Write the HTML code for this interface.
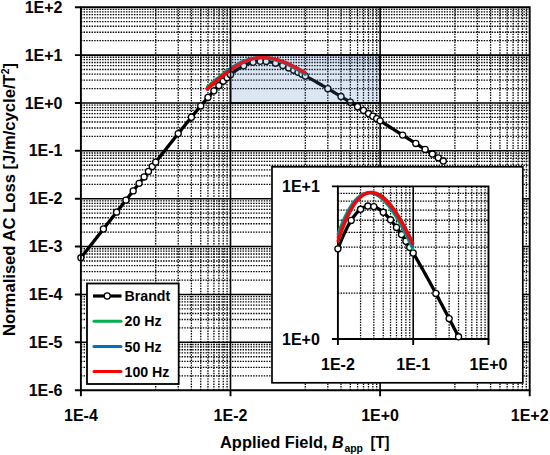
<!DOCTYPE html>
<html><head><meta charset="utf-8"><style>html,body{margin:0;padding:0;background:#fff;}svg{display:block;}</style></head>
<body>
<svg width="550" height="455" viewBox="0 0 550 455" font-family="&quot;Liberation Sans&quot;, sans-serif" font-weight="bold">
<rect x="0" y="0" width="550" height="455" fill="#fff"/>
<path d="M80.90,375.79H529.70M80.90,367.36H529.70M80.90,361.38H529.70M80.90,356.74H529.70M80.90,352.95H529.70M80.90,349.74H529.70M80.90,346.96H529.70M80.90,344.52H529.70M80.90,327.91H529.70M80.90,319.48H529.70M80.90,313.50H529.70M80.90,308.86H529.70M80.90,305.07H529.70M80.90,301.87H529.70M80.90,299.09H529.70M80.90,296.64H529.70M80.90,280.04H529.70M80.90,271.61H529.70M80.90,265.63H529.70M80.90,260.99H529.70M80.90,257.20H529.70M80.90,253.99H529.70M80.90,251.21H529.70M80.90,248.77H529.70M80.90,232.16H529.70M80.90,223.73H529.70M80.90,217.75H529.70M80.90,213.11H529.70M80.90,209.32H529.70M80.90,206.12H529.70M80.90,203.34H529.70M80.90,200.89H529.70M80.90,184.29H529.70M80.90,175.86H529.70M80.90,169.88H529.70M80.90,165.24H529.70M80.90,161.45H529.70M80.90,158.24H529.70M80.90,155.46H529.70M80.90,153.02H529.70M80.90,136.41H529.70M80.90,127.98H529.70M80.90,122.00H529.70M80.90,117.36H529.70M80.90,113.57H529.70M80.90,110.37H529.70M80.90,107.59H529.70M80.90,105.14H529.70M80.90,88.54H529.70M80.90,80.11H529.70M80.90,74.13H529.70M80.90,69.49H529.70M80.90,65.70H529.70M80.90,62.49H529.70M80.90,59.71H529.70M80.90,57.27H529.70M80.90,40.66H529.70M80.90,32.23H529.70M80.90,26.25H529.70M80.90,21.61H529.70M80.90,17.82H529.70M80.90,14.62H529.70M80.90,11.84H529.70M80.90,9.39H529.70" fill="none" stroke="#000" stroke-width="1.3" stroke-dasharray="1.45 1.2"/>
<path d="M155.70,390.20V7.20M178.22,390.20V7.20M191.39,390.20V7.20M200.73,390.20V7.20M207.98,390.20V7.20M213.91,390.20V7.20M218.91,390.20V7.20M223.25,390.20V7.20M227.08,390.20V7.20M305.30,390.20V7.20M327.82,390.20V7.20M340.99,390.20V7.20M350.33,390.20V7.20M357.58,390.20V7.20M363.51,390.20V7.20M368.51,390.20V7.20M372.85,390.20V7.20M376.68,390.20V7.20M454.90,390.20V7.20M477.42,390.20V7.20M490.59,390.20V7.20M499.93,390.20V7.20M507.18,390.20V7.20M513.11,390.20V7.20M518.11,390.20V7.20M522.45,390.20V7.20M526.28,390.20V7.20" fill="none" stroke="#000" stroke-width="1.3" stroke-dasharray="1.45 1.2"/>
<path d="M80.90,342.32H529.70M80.90,294.45H529.70M80.90,246.57H529.70M80.90,198.70H529.70M80.90,150.82H529.70M80.90,102.95H529.70M80.90,55.08H529.70M230.50,390.20V7.20M380.10,390.20V7.20" fill="none" stroke="#000" stroke-width="1.6"/>
<path d="M80.90,257.81 L81.81,256.64 L82.72,255.48 L83.62,254.32 L84.53,253.16 L85.44,251.99 L86.35,250.83 L87.26,249.67 L88.17,248.51 L89.07,247.34 L89.98,246.18 L90.89,245.02 L91.80,243.86 L92.71,242.69 L93.62,241.53 L94.52,240.37 L95.43,239.20 L96.34,238.04 L97.25,236.88 L98.16,235.72 L99.07,234.55 L99.97,233.39 L100.88,232.23 L101.79,231.07 L102.70,229.90 L103.61,228.74 L104.52,227.58 L105.42,226.42 L106.33,225.25 L107.24,224.09 L108.15,222.93 L109.06,221.77 L109.97,220.61 L110.87,219.44 L111.78,218.28 L112.69,217.12 L113.60,215.96 L114.51,214.79 L115.42,213.63 L116.32,212.47 L117.23,211.31 L118.14,210.14 L119.05,208.98 L119.96,207.82 L120.87,206.66 L121.77,205.50 L122.68,204.33 L123.59,203.17 L124.50,202.01 L125.41,200.85 L126.32,199.69 L127.22,198.52 L128.13,197.36 L129.04,196.20 L129.95,195.04 L130.86,193.88 L131.77,192.72 L132.67,191.56 L133.58,190.39 L134.49,189.23 L135.40,188.07 L136.31,186.91 L137.21,185.75 L138.12,184.59 L139.03,183.43 L139.94,182.27 L140.85,181.11 L141.76,179.95 L142.66,178.79 L143.57,177.63 L144.48,176.47 L145.39,175.31 L146.30,174.15 L147.21,172.99 L148.11,171.83 L149.02,170.67 L149.93,169.51 L150.84,168.35 L151.75,167.19 L152.66,166.03 L153.56,164.87 L154.47,163.72 L155.38,162.56 L156.29,161.40 L157.20,160.24 L158.11,159.09 L159.01,157.93 L159.92,156.78 L160.83,155.62 L161.74,154.47 L162.65,153.31 L163.56,152.16 L164.46,151.00 L165.37,149.85 L166.28,148.70 L167.19,147.54 L168.10,146.39 L169.01,145.24 L169.91,144.09 L170.82,142.94 L171.73,141.79 L172.64,140.65 L173.55,139.50 L174.46,138.35 L175.36,137.21 L176.27,136.06 L177.18,134.92 L178.09,133.78 L179.00,132.64 L179.91,131.50 L180.81,130.36 L181.72,129.22 L182.63,128.09 L183.54,126.95 L184.45,125.82 L185.35,124.69 L186.26,123.56 L187.17,122.43 L188.08,121.31 L188.99,120.19 L189.90,119.06 L190.80,117.95 L191.71,116.83 L192.62,115.72 L193.53,114.61 L194.44,113.50 L195.35,112.40 L196.25,111.29 L197.16,110.20 L198.07,109.10 L198.98,108.01 L199.89,106.92 L200.80,105.84 L201.70,104.76 L202.61,103.69 L203.52,102.62 L204.43,101.56 L205.34,100.50 L206.25,99.45 L207.15,98.40 L208.06,97.36 L208.97,96.33 L209.88,95.30 L210.79,94.28 L211.70,93.27 L212.60,92.26 L213.51,91.27 L214.42,90.28 L215.33,89.30 L216.24,88.33 L217.15,87.37 L218.05,86.42 L218.96,85.48 L219.87,84.55 L220.78,83.64 L221.69,82.73 L222.60,81.84 L223.50,80.96 L224.41,80.09 L225.32,79.24 L226.23,78.40 L227.14,77.58 L228.05,76.77 L228.95,75.98 L229.86,75.20 L230.77,74.45 L231.68,73.70 L232.59,72.98 L233.50,72.28 L234.40,71.59 L235.31,70.92 L236.22,70.27 L237.13,69.65 L238.04,69.04 L238.94,68.46 L239.85,67.89 L240.76,67.35 L241.67,66.83 L242.58,66.33 L243.49,65.85 L244.39,65.40 L245.30,64.97 L246.21,64.56 L247.12,64.18 L248.03,63.82 L248.94,63.48 L249.84,63.17 L250.75,62.88 L251.66,62.62 L252.57,62.38 L253.48,62.16 L254.39,61.96 L255.29,61.79 L256.20,61.64 L257.11,61.51 L258.02,61.41 L258.93,61.32 L259.84,61.26 L260.74,61.22 L261.65,61.20 L262.56,61.21 L263.47,61.23 L264.38,61.27 L265.29,61.33 L266.19,61.41 L267.10,61.51 L268.01,61.62 L268.92,61.76 L269.83,61.91 L270.74,62.07 L271.64,62.25 L272.55,62.45 L273.46,62.66 L274.37,62.89 L275.28,63.12 L276.19,63.38 L277.09,63.64 L278.00,63.92 L278.91,64.21 L279.82,64.51 L280.73,64.82 L281.64,65.14 L282.54,65.47 L283.45,65.81 L284.36,66.16 L285.27,66.51 L286.18,66.88 L287.09,67.25 L287.99,67.63 L288.90,68.02 L289.81,68.42 L290.72,68.82 L291.63,69.23 L292.53,69.64 L293.44,70.06 L294.35,70.49 L295.26,70.92 L296.17,71.36 L297.08,71.80 L297.98,72.24 L298.89,72.70 L299.80,73.15 L300.71,73.61 L301.62,74.07 L302.53,74.54 L303.43,75.01 L304.34,75.49 L305.25,75.96 L306.16,76.45 L307.07,76.93 L307.98,77.42 L308.88,77.91 L309.79,78.40 L310.70,78.90 L311.61,79.40 L312.52,79.90 L313.43,80.40 L314.33,80.91 L315.24,81.42 L316.15,81.93 L317.06,82.44 L317.97,82.96 L318.88,83.48 L319.78,84.00 L320.69,84.52 L321.60,85.04 L322.51,85.56 L323.42,86.09 L324.33,86.62 L325.23,87.15 L326.14,87.68 L327.05,88.21 L327.96,88.75 L328.87,89.28 L329.78,89.82 L330.68,90.36 L331.59,90.90 L332.50,91.44 L333.41,91.98 L334.32,92.52 L335.23,93.07 L336.13,93.61 L337.04,94.16 L337.95,94.71 L338.86,95.26 L339.77,95.81 L340.67,96.36 L341.58,96.91 L342.49,97.46 L343.40,98.01 L344.31,98.57 L345.22,99.12 L346.12,99.68 L347.03,100.23 L347.94,100.79 L348.85,101.35 L349.76,101.90 L350.67,102.46 L351.57,103.02 L352.48,103.58 L353.39,104.14 L354.30,104.70 L355.21,105.27 L356.12,105.83 L357.02,106.39 L357.93,106.96 L358.84,107.52 L359.75,108.08 L360.66,108.65 L361.57,109.21 L362.47,109.78 L363.38,110.35 L364.29,110.91 L365.20,111.48 L366.11,112.05 L367.02,112.62 L367.92,113.18 L368.83,113.75 L369.74,114.32 L370.65,114.89 L371.56,115.46 L372.47,116.03 L373.37,116.60 L374.28,117.17 L375.19,117.74 L376.10,118.31 L377.01,118.89 L377.92,119.46 L378.82,120.03 L379.73,120.60 L380.64,121.17 L381.55,121.75 L382.46,122.32 L383.37,122.89 L384.27,123.47 L385.18,124.04 L386.09,124.62 L387.00,125.19 L387.91,125.76 L388.82,126.34 L389.72,126.91 L390.63,127.49 L391.54,128.06 L392.45,128.64 L393.36,129.21 L394.26,129.79 L395.17,130.37 L396.08,130.94 L396.99,131.52 L397.90,132.09 L398.81,132.67 L399.71,133.25 L400.62,133.82 L401.53,134.40 L402.44,134.98 L403.35,135.55 L404.26,136.13 L405.16,136.71 L406.07,137.29 L406.98,137.86 L407.89,138.44 L408.80,139.02 L409.71,139.60 L410.61,140.17 L411.52,140.75 L412.43,141.33 L413.34,141.91 L414.25,142.49 L415.16,143.07 L416.06,143.64 L416.97,144.22 L417.88,144.80 L418.79,145.38 L419.70,145.96 L420.61,146.54 L421.51,147.12 L422.42,147.70 L423.33,148.27 L424.24,148.85 L425.15,149.43 L426.06,150.01 L426.96,150.59 L427.87,151.17 L428.78,151.75 L429.69,152.33 L430.60,152.91 L431.51,153.49 L432.41,154.07 L433.32,154.65 L434.23,155.23 L435.14,155.81 L436.05,156.39 L436.96,156.97 L437.86,157.55 L438.77,158.13 L439.68,158.71 L440.59,159.29 L441.50,159.87 L442.41,160.45 L443.31,161.03" fill="none" stroke="#000" stroke-width="3.3" stroke-linejoin="round"/>
<circle cx="80.90" cy="257.81" r="3.05" fill="#fff" stroke="#000" stroke-width="1.3"/>
<circle cx="103.42" cy="228.99" r="3.05" fill="#fff" stroke="#000" stroke-width="1.3"/>
<circle cx="116.59" cy="212.13" r="3.05" fill="#fff" stroke="#000" stroke-width="1.3"/>
<circle cx="125.93" cy="200.17" r="3.05" fill="#fff" stroke="#000" stroke-width="1.3"/>
<circle cx="133.18" cy="190.90" r="3.05" fill="#fff" stroke="#000" stroke-width="1.3"/>
<circle cx="139.11" cy="183.33" r="3.05" fill="#fff" stroke="#000" stroke-width="1.3"/>
<circle cx="144.11" cy="176.93" r="3.05" fill="#fff" stroke="#000" stroke-width="1.3"/>
<circle cx="148.45" cy="171.40" r="3.05" fill="#fff" stroke="#000" stroke-width="1.3"/>
<circle cx="152.28" cy="166.52" r="3.05" fill="#fff" stroke="#000" stroke-width="1.3"/>
<circle cx="155.70" cy="162.15" r="3.05" fill="#fff" stroke="#000" stroke-width="1.3"/>
<circle cx="178.22" cy="133.62" r="3.05" fill="#fff" stroke="#000" stroke-width="1.3"/>
<circle cx="191.39" cy="117.23" r="3.05" fill="#fff" stroke="#000" stroke-width="1.3"/>
<circle cx="200.73" cy="105.92" r="3.05" fill="#fff" stroke="#000" stroke-width="1.3"/>
<circle cx="207.98" cy="97.45" r="3.05" fill="#fff" stroke="#000" stroke-width="1.3"/>
<circle cx="213.91" cy="90.84" r="3.05" fill="#fff" stroke="#000" stroke-width="1.3"/>
<circle cx="218.91" cy="85.53" r="3.05" fill="#fff" stroke="#000" stroke-width="1.3"/>
<circle cx="223.25" cy="81.20" r="3.05" fill="#fff" stroke="#000" stroke-width="1.3"/>
<circle cx="227.08" cy="77.63" r="3.05" fill="#fff" stroke="#000" stroke-width="1.3"/>
<circle cx="230.50" cy="74.67" r="3.05" fill="#fff" stroke="#000" stroke-width="1.3"/>
<circle cx="243.67" cy="65.76" r="3.05" fill="#fff" stroke="#000" stroke-width="1.3"/>
<circle cx="253.02" cy="62.26" r="3.05" fill="#fff" stroke="#000" stroke-width="1.3"/>
<circle cx="260.27" cy="61.24" r="3.05" fill="#fff" stroke="#000" stroke-width="1.3"/>
<circle cx="266.19" cy="61.41" r="3.05" fill="#fff" stroke="#000" stroke-width="1.3"/>
<circle cx="275.53" cy="63.19" r="3.05" fill="#fff" stroke="#000" stroke-width="1.3"/>
<circle cx="282.78" cy="65.56" r="3.05" fill="#fff" stroke="#000" stroke-width="1.3"/>
<circle cx="288.71" cy="67.94" r="3.05" fill="#fff" stroke="#000" stroke-width="1.3"/>
<circle cx="293.71" cy="70.19" r="3.05" fill="#fff" stroke="#000" stroke-width="1.3"/>
<circle cx="298.05" cy="72.28" r="3.05" fill="#fff" stroke="#000" stroke-width="1.3"/>
<circle cx="301.88" cy="74.21" r="3.05" fill="#fff" stroke="#000" stroke-width="1.3"/>
<circle cx="305.30" cy="75.99" r="3.05" fill="#fff" stroke="#000" stroke-width="1.3"/>
<circle cx="327.82" cy="88.66" r="3.05" fill="#fff" stroke="#000" stroke-width="1.3"/>
<circle cx="340.99" cy="96.55" r="3.05" fill="#fff" stroke="#000" stroke-width="1.3"/>
<circle cx="350.33" cy="102.26" r="3.05" fill="#fff" stroke="#000" stroke-width="1.3"/>
<circle cx="357.58" cy="106.74" r="3.05" fill="#fff" stroke="#000" stroke-width="1.3"/>
<circle cx="363.51" cy="110.42" r="3.05" fill="#fff" stroke="#000" stroke-width="1.3"/>
<circle cx="368.51" cy="113.55" r="3.05" fill="#fff" stroke="#000" stroke-width="1.3"/>
<circle cx="372.85" cy="116.27" r="3.05" fill="#fff" stroke="#000" stroke-width="1.3"/>
<circle cx="376.68" cy="118.68" r="3.05" fill="#fff" stroke="#000" stroke-width="1.3"/>
<circle cx="380.10" cy="120.83" r="3.05" fill="#fff" stroke="#000" stroke-width="1.3"/>
<circle cx="402.62" cy="135.09" r="3.05" fill="#fff" stroke="#000" stroke-width="1.3"/>
<circle cx="415.79" cy="143.47" r="3.05" fill="#fff" stroke="#000" stroke-width="1.3"/>
<circle cx="425.13" cy="149.42" r="3.05" fill="#fff" stroke="#000" stroke-width="1.3"/>
<circle cx="432.38" cy="154.05" r="3.05" fill="#fff" stroke="#000" stroke-width="1.3"/>
<circle cx="438.31" cy="157.83" r="3.05" fill="#fff" stroke="#000" stroke-width="1.3"/>
<circle cx="443.31" cy="161.03" r="3.05" fill="#fff" stroke="#000" stroke-width="1.3"/>
<path d="M207.40,86.93 L208.06,86.35 L208.72,85.76 L209.37,85.18 L210.03,84.61 L210.69,84.03 L211.34,83.45 L212.00,82.88 L212.66,82.31 L213.32,81.75 L213.97,81.18 L214.63,80.62 L215.29,80.06 L215.94,79.51 L216.60,78.95 L217.26,78.41 L217.91,77.86 L218.57,77.32 L219.23,76.78 L219.89,76.25 L220.54,75.72 L221.20,75.20 L221.86,74.68 L222.51,74.16 L223.17,73.65 L223.83,73.15 L224.48,72.65 L225.14,72.16 L225.80,71.67 L226.46,71.19 L227.11,70.71 L227.77,70.24 L228.43,69.77 L229.08,69.32 L229.74,68.86 L230.40,68.42 L231.06,67.98 L231.71,67.55 L232.37,67.12 L233.03,66.71 L233.68,66.30 L234.34,65.90 L235.00,65.50 L235.65,65.12 L236.31,64.74 L236.97,64.37 L237.63,64.01 L238.28,63.65 L238.94,63.31 L239.60,62.97 L240.25,62.65 L240.91,62.33 L241.57,62.02 L242.22,61.72 L242.88,61.44 L243.54,61.16 L244.20,60.89 L244.85,60.63 L245.51,60.38 L246.17,60.14 L246.82,59.92 L247.48,59.70 L248.14,59.49 L248.79,59.30 L249.45,59.11 L250.11,58.94 L250.77,58.78 L251.42,58.63 L252.08,58.49 L252.74,58.37 L253.39,58.25 L254.05,58.14 L254.71,58.05 L255.37,57.97 L256.02,57.89 L256.68,57.83 L257.34,57.78 L257.99,57.74 L258.65,57.70 L259.31,57.68 L259.96,57.67 L260.62,57.67 L261.28,57.67 L261.94,57.69 L262.59,57.72 L263.25,57.75 L263.91,57.80 L264.56,57.85 L265.22,57.91 L265.88,57.99 L266.53,58.07 L267.19,58.16 L267.85,58.25 L268.51,58.36 L269.16,58.47 L269.82,58.60 L270.48,58.73 L271.13,58.87 L271.79,59.02 L272.45,59.17 L273.11,59.33 L273.76,59.50 L274.42,59.68 L275.08,59.87 L275.73,60.06 L276.39,60.26 L277.05,60.47 L277.70,60.68 L278.36,60.90 L279.02,61.13 L279.68,61.36 L280.33,61.60 L280.99,61.85 L281.65,62.10 L282.30,62.36 L282.96,62.63 L283.62,62.90 L284.27,63.18 L284.93,63.46 L285.59,63.75 L286.25,64.04 L286.90,64.34 L287.56,64.65 L288.22,64.96 L288.87,65.27 L289.53,65.59 L290.19,65.92 L290.85,66.25 L291.50,66.58 L292.16,66.92 L292.82,67.26 L293.47,67.61 L294.13,67.96 L294.79,68.32 L295.44,68.68 L296.10,69.04 L296.76,69.41 L297.42,69.78 L298.07,70.16 L298.73,70.54 L299.39,70.92 L300.04,71.30 L300.70,71.69 L301.36,72.08 L302.01,72.48 L302.67,72.87 L303.33,73.27 L303.99,73.68 L304.64,74.08 L305.30,74.49" fill="none" stroke="#00B050" stroke-width="3" stroke-linecap="round"/>
<path d="M207.40,87.88 L208.06,87.29 L208.72,86.71 L209.37,86.13 L210.03,85.55 L210.69,84.97 L211.34,84.39 L212.00,83.81 L212.66,83.24 L213.32,82.67 L213.97,82.10 L214.63,81.53 L215.29,80.97 L215.94,80.41 L216.60,79.85 L217.26,79.30 L217.91,78.75 L218.57,78.20 L219.23,77.66 L219.89,77.12 L220.54,76.58 L221.20,76.05 L221.86,75.52 L222.51,75.00 L223.17,74.48 L223.83,73.97 L224.48,73.46 L225.14,72.96 L225.80,72.46 L226.46,71.97 L227.11,71.48 L227.77,71.00 L228.43,70.52 L229.08,70.05 L229.74,69.59 L230.40,69.13 L231.06,68.69 L231.71,68.24 L232.37,67.81 L233.03,67.38 L233.68,66.95 L234.34,66.54 L235.00,66.13 L235.65,65.73 L236.31,65.34 L236.97,64.96 L237.63,64.58 L238.28,64.21 L238.94,63.86 L239.60,63.50 L240.25,63.16 L240.91,62.83 L241.57,62.51 L242.22,62.19 L242.88,61.89 L243.54,61.59 L244.20,61.31 L244.85,61.03 L245.51,60.76 L246.17,60.51 L246.82,60.26 L247.48,60.03 L248.14,59.80 L248.79,59.59 L249.45,59.39 L250.11,59.19 L250.77,59.01 L251.42,58.85 L252.08,58.69 L252.74,58.54 L253.39,58.41 L254.05,58.28 L254.71,58.17 L255.37,58.07 L256.02,57.98 L256.68,57.90 L257.34,57.83 L257.99,57.77 L258.65,57.72 L259.31,57.68 L259.96,57.65 L260.62,57.63 L261.28,57.62 L261.94,57.62 L262.59,57.63 L263.25,57.65 L263.91,57.68 L264.56,57.72 L265.22,57.76 L265.88,57.82 L266.53,57.89 L267.19,57.96 L267.85,58.04 L268.51,58.14 L269.16,58.24 L269.82,58.34 L270.48,58.46 L271.13,58.59 L271.79,58.72 L272.45,58.86 L273.11,59.01 L273.76,59.17 L274.42,59.33 L275.08,59.51 L275.73,59.69 L276.39,59.87 L277.05,60.07 L277.70,60.27 L278.36,60.48 L279.02,60.70 L279.68,60.92 L280.33,61.15 L280.99,61.38 L281.65,61.63 L282.30,61.87 L282.96,62.13 L283.62,62.39 L284.27,62.66 L284.93,62.93 L285.59,63.21 L286.25,63.49 L286.90,63.78 L287.56,64.08 L288.22,64.38 L288.87,64.69 L289.53,65.00 L290.19,65.32 L290.85,65.64 L291.50,65.96 L292.16,66.30 L292.82,66.63 L293.47,66.97 L294.13,67.32 L294.79,67.67 L295.44,68.02 L296.10,68.38 L296.76,68.74 L297.42,69.10 L298.07,69.47 L298.73,69.84 L299.39,70.22 L300.04,70.60 L300.70,70.98 L301.36,71.37 L302.01,71.76 L302.67,72.15 L303.33,72.54 L303.99,72.94 L304.64,73.34 L305.30,73.75" fill="none" stroke="#0070C0" stroke-width="3" stroke-linecap="round"/>
<path d="M207.40,89.10 L208.06,88.51 L208.72,87.93 L209.37,87.34 L210.03,86.76 L210.69,86.17 L211.34,85.59 L212.00,85.01 L212.66,84.44 L213.32,83.86 L213.97,83.28 L214.63,82.71 L215.29,82.14 L215.94,81.58 L216.60,81.01 L217.26,80.45 L217.91,79.89 L218.57,79.34 L219.23,78.79 L219.89,78.24 L220.54,77.70 L221.20,77.16 L221.86,76.62 L222.51,76.09 L223.17,75.56 L223.83,75.04 L224.48,74.52 L225.14,74.00 L225.80,73.49 L226.46,72.99 L227.11,72.49 L227.77,72.00 L228.43,71.51 L229.08,71.03 L229.74,70.55 L230.40,70.08 L231.06,69.62 L231.71,69.16 L232.37,68.71 L233.03,68.27 L233.68,67.83 L234.34,67.40 L235.00,66.97 L235.65,66.56 L236.31,66.15 L236.97,65.75 L237.63,65.36 L238.28,64.97 L238.94,64.59 L239.60,64.23 L240.25,63.87 L240.91,63.51 L241.57,63.17 L242.22,62.84 L242.88,62.51 L243.54,62.20 L244.20,61.89 L244.85,61.59 L245.51,61.30 L246.17,61.03 L246.82,60.76 L247.48,60.50 L248.14,60.25 L248.79,60.02 L249.45,59.79 L250.11,59.58 L250.77,59.37 L251.42,59.18 L252.08,59.00 L252.74,58.82 L253.39,58.67 L254.05,58.52 L254.71,58.38 L255.37,58.25 L256.02,58.14 L256.68,58.04 L257.34,57.94 L257.99,57.86 L258.65,57.79 L259.31,57.73 L259.96,57.68 L260.62,57.63 L261.28,57.60 L261.94,57.58 L262.59,57.57 L263.25,57.57 L263.91,57.58 L264.56,57.60 L265.22,57.62 L265.88,57.66 L266.53,57.71 L267.19,57.76 L267.85,57.83 L268.51,57.90 L269.16,57.98 L269.82,58.07 L270.48,58.17 L271.13,58.28 L271.79,58.39 L272.45,58.52 L273.11,58.65 L273.76,58.79 L274.42,58.94 L275.08,59.10 L275.73,59.26 L276.39,59.43 L277.05,59.61 L277.70,59.80 L278.36,59.99 L279.02,60.19 L279.68,60.40 L280.33,60.61 L280.99,60.83 L281.65,61.06 L282.30,61.30 L282.96,61.54 L283.62,61.79 L284.27,62.04 L284.93,62.30 L285.59,62.57 L286.25,62.84 L286.90,63.12 L287.56,63.40 L288.22,63.69 L288.87,63.98 L289.53,64.28 L290.19,64.59 L290.85,64.90 L291.50,65.22 L292.16,65.54 L292.82,65.86 L293.47,66.19 L294.13,66.53 L294.79,66.87 L295.44,67.21 L296.10,67.56 L296.76,67.91 L297.42,68.27 L298.07,68.63 L298.73,68.99 L299.39,69.36 L300.04,69.74 L300.70,70.11 L301.36,70.49 L302.01,70.87 L302.67,71.26 L303.33,71.65 L303.99,72.04 L304.64,72.43 L305.30,72.83" fill="none" stroke="#FF0000" stroke-width="3.4" stroke-linecap="round"/>
<rect x="230.50" y="55.08" width="149.60" height="47.88" fill="#4F81BD" fill-opacity="0.2" stroke="#000" stroke-width="1.6"/>
<path d="M80.90,7.20H529.70V390.20H80.90Z" fill="none" stroke="#000" stroke-width="1.9"/>
<path d="M74.90,390.20H80.90M74.90,342.32H80.90M74.90,294.45H80.90M74.90,246.57H80.90M74.90,198.70H80.90M74.90,150.82H80.90M74.90,102.95H80.90M74.90,55.08H80.90M74.90,7.20H80.90M80.90,390.20V396.20M230.50,390.20V396.20M380.10,390.20V396.20M529.70,390.20V396.20" fill="none" stroke="#000" stroke-width="1.9"/>
<text x="62.5" y="12.80" font-size="16" text-anchor="end">1E+2</text>
<text x="62.5" y="60.68" font-size="16" text-anchor="end">1E+1</text>
<text x="62.5" y="108.55" font-size="16" text-anchor="end">1E+0</text>
<text x="62.5" y="156.42" font-size="16" text-anchor="end">1E-1</text>
<text x="62.5" y="204.30" font-size="16" text-anchor="end">1E-2</text>
<text x="62.5" y="252.17" font-size="16" text-anchor="end">1E-3</text>
<text x="62.5" y="300.05" font-size="16" text-anchor="end">1E-4</text>
<text x="62.5" y="347.93" font-size="16" text-anchor="end">1E-5</text>
<text x="62.5" y="395.80" font-size="16" text-anchor="end">1E-6</text>
<text x="80.90" y="421.3" font-size="16" text-anchor="middle">1E-4</text>
<text x="230.50" y="421.3" font-size="16" text-anchor="middle">1E-2</text>
<text x="380.10" y="421.3" font-size="16" text-anchor="middle">1E+0</text>
<text x="529.70" y="421.3" font-size="16" text-anchor="middle">1E+2</text>
<text transform="translate(14.9,336) rotate(-90)" font-size="16" textLength="273" lengthAdjust="spacingAndGlyphs">Normalised AC Loss [J/m/cycle/T<tspan font-size="10" dy="-6">2</tspan><tspan dy="6">]</tspan></text>
<text x="220" y="447.6" font-size="16" textLength="107.6" lengthAdjust="spacingAndGlyphs">Applied Field,</text>
<text x="332" y="447.6" font-size="16" font-style="italic">B</text>
<text x="344.4" y="451.6" font-size="10.7" textLength="18.6" lengthAdjust="spacingAndGlyphs">app</text>
<text x="370.6" y="447.6" font-size="16" textLength="18.9" lengthAdjust="spacingAndGlyphs">[T]</text>
<rect x="87" y="283.5" width="91.7" height="100.5" fill="#fff" stroke="#000" stroke-width="1.8"/>
<path d="M93,296.0H121.5" stroke="#000" stroke-width="3.2"/>
<circle cx="107.2" cy="296.0" r="3.05" fill="#fff" stroke="#000" stroke-width="1.3"/>
<text x="124.5" y="301.10" font-size="14.2">Brandt</text>
<path d="M94,321.2H121" stroke="#00B050" stroke-width="3" stroke-linecap="round"/>
<text x="124.5" y="326.30" font-size="14.2">20 Hz</text>
<path d="M94,346.5H121" stroke="#0070C0" stroke-width="3" stroke-linecap="round"/>
<text x="124.5" y="351.60" font-size="14.2">50 Hz</text>
<path d="M94,371.6H121" stroke="#FF0000" stroke-width="3" stroke-linecap="round"/>
<text x="124.5" y="376.70" font-size="14.2">100 Hz</text>
<rect x="272" y="166.8" width="250.8" height="216" fill="#fff" stroke="#000" stroke-width="1.7"/>
<path d="M337.90,293.06H488.50M337.90,266.19H488.50M337.90,247.13H488.50M337.90,232.34H488.50M337.90,220.25H488.50M337.90,210.04H488.50M337.90,201.19H488.50M337.90,193.38H488.50" fill="none" stroke="#000" stroke-width="1.3" stroke-dasharray="1.45 1.2"/>
<path d="M360.57,339.00V186.40M373.83,339.00V186.40M383.24,339.00V186.40M390.53,339.00V186.40M396.49,339.00V186.40M401.54,339.00V186.40M405.90,339.00V186.40M409.75,339.00V186.40M435.87,339.00V186.40M449.13,339.00V186.40M458.54,339.00V186.40M465.83,339.00V186.40M471.79,339.00V186.40M476.84,339.00V186.40M481.20,339.00V186.40M485.05,339.00V186.40" fill="none" stroke="#000" stroke-width="1.3" stroke-dasharray="1.45 1.2"/>
<path d="M413.20,339.00V186.40" fill="none" stroke="#000" stroke-width="1.6"/>
<path d="M337.90,186.40H488.50V339.00H337.90Z" fill="none" stroke="#000" stroke-width="1.9"/>
<path d="M337.90,248.85 L338.31,247.79 L338.71,246.73 L339.12,245.69 L339.53,244.66 L339.94,243.63 L340.34,242.62 L340.75,241.63 L341.16,240.64 L341.57,239.66 L341.97,238.70 L342.38,237.75 L342.79,236.81 L343.19,235.89 L343.60,234.97 L344.01,234.07 L344.42,233.19 L344.82,232.31 L345.23,231.45 L345.64,230.60 L346.04,229.77 L346.45,228.95 L346.86,228.14 L347.27,227.35 L347.67,226.56 L348.08,225.80 L348.49,225.05 L348.90,224.31 L349.30,223.58 L349.71,222.87 L350.12,222.17 L350.52,221.49 L350.93,220.82 L351.34,220.17 L351.75,219.53 L352.15,218.91 L352.56,218.30 L352.97,217.70 L353.38,217.12 L353.78,216.56 L354.19,216.01 L354.60,215.47 L355.00,214.95 L355.41,214.44 L355.82,213.95 L356.23,213.47 L356.63,213.01 L357.04,212.56 L357.45,212.13 L357.85,211.72 L358.26,211.31 L358.67,210.93 L359.08,210.55 L359.48,210.20 L359.89,209.85 L360.30,209.52 L360.71,209.21 L361.11,208.91 L361.52,208.63 L361.93,208.36 L362.33,208.11 L362.74,207.87 L363.15,207.64 L363.56,207.43 L363.96,207.23 L364.37,207.05 L364.78,206.88 L365.19,206.73 L365.59,206.59 L366.00,206.46 L366.41,206.35 L366.81,206.25 L367.22,206.16 L367.63,206.09 L368.04,206.03 L368.44,205.99 L368.85,205.96 L369.26,205.94 L369.66,205.93 L370.07,205.94 L370.48,205.96 L370.89,205.99 L371.29,206.04 L371.70,206.10 L372.11,206.17 L372.52,206.25 L372.92,206.34 L373.33,206.45 L373.74,206.56 L374.14,206.69 L374.55,206.83 L374.96,206.99 L375.37,207.15 L375.77,207.32 L376.18,207.51 L376.59,207.70 L377.00,207.91 L377.40,208.13 L377.81,208.35 L378.22,208.59 L378.62,208.84 L379.03,209.09 L379.44,209.36 L379.85,209.63 L380.25,209.92 L380.66,210.21 L381.07,210.52 L381.48,210.83 L381.88,211.15 L382.29,211.48 L382.70,211.82 L383.10,212.17 L383.51,212.52 L383.92,212.89 L384.33,213.26 L384.73,213.64 L385.14,214.02 L385.55,214.42 L385.95,214.82 L386.36,215.23 L386.77,215.65 L387.18,216.07 L387.58,216.50 L387.99,216.94 L388.40,217.38 L388.81,217.83 L389.21,218.28 L389.62,218.75 L390.03,219.22 L390.43,219.69 L390.84,220.17 L391.25,220.66 L391.66,221.15 L392.06,221.65 L392.47,222.15 L392.88,222.66 L393.29,223.17 L393.69,223.69 L394.10,224.22 L394.51,224.75 L394.91,225.28 L395.32,225.82 L395.73,226.36 L396.14,226.91 L396.54,227.46 L396.95,228.02 L397.36,228.58 L397.76,229.15 L398.17,229.72 L398.58,230.29 L398.99,230.87 L399.39,231.45 L399.80,232.04 L400.21,232.63 L400.62,233.22 L401.02,233.82 L401.43,234.42 L401.84,235.02 L402.24,235.63 L402.65,236.24 L403.06,236.85 L403.47,237.47 L403.87,238.09 L404.28,238.72 L404.69,239.34 L405.10,239.97 L405.50,240.61 L405.91,241.24 L406.32,241.88 L406.72,242.52 L407.13,243.17 L407.54,243.81 L407.95,244.46 L408.35,245.12 L408.76,245.77 L409.17,246.43 L409.57,247.09 L409.98,247.75 L410.39,248.42 L410.80,249.08 L411.20,249.75 L411.61,250.42 L412.02,251.10 L412.43,251.77 L412.83,252.45 L413.24,253.13 L413.65,253.82 L414.05,254.50 L414.46,255.19 L414.87,255.88 L415.28,256.57 L415.68,257.26 L416.09,257.95 L416.50,258.65 L416.91,259.35 L417.31,260.05 L417.72,260.75 L418.13,261.45 L418.53,262.16 L418.94,262.87 L419.35,263.58 L419.76,264.29 L420.16,265.00 L420.57,265.71 L420.98,266.43 L421.38,267.14 L421.79,267.86 L422.20,268.58 L422.61,269.30 L423.01,270.02 L423.42,270.75 L423.83,271.47 L424.24,272.20 L424.64,272.93 L425.05,273.66 L425.46,274.39 L425.86,275.12 L426.27,275.85 L426.68,276.59 L427.09,277.33 L427.49,278.06 L427.90,278.80 L428.31,279.54 L428.72,280.28 L429.12,281.02 L429.53,281.77 L429.94,282.51 L430.34,283.26 L430.75,284.00 L431.16,284.75 L431.57,285.50 L431.97,286.25 L432.38,287.00 L432.79,287.75 L433.19,288.50 L433.60,289.25 L434.01,290.01 L434.42,290.76 L434.82,291.52 L435.23,292.28 L435.64,293.04 L436.05,293.80 L436.45,294.56 L436.86,295.32 L437.27,296.08 L437.67,296.84 L438.08,297.60 L438.49,298.37 L438.90,299.13 L439.30,299.90 L439.71,300.67 L440.12,301.43 L440.53,302.20 L440.93,302.97 L441.34,303.74 L441.75,304.51 L442.15,305.28 L442.56,306.05 L442.97,306.83 L443.38,307.60 L443.78,308.37 L444.19,309.15 L444.60,309.92 L445.01,310.70 L445.41,311.47 L445.82,312.25 L446.23,313.03 L446.63,313.81 L447.04,314.59 L447.45,315.37 L447.86,316.15 L448.26,316.93 L448.67,317.71 L449.08,318.49 L449.48,319.27 L449.89,320.06 L450.30,320.84 L450.71,321.62 L451.11,322.41 L451.52,323.19 L451.93,323.98 L452.34,324.77 L452.74,325.55 L453.15,326.34 L453.56,327.13 L453.96,327.92 L454.37,328.71 L454.78,329.49 L455.19,330.28 L455.59,331.07 L456.00,331.87 L456.41,332.66 L456.82,333.45 L457.22,334.24 L457.63,335.03 L458.04,335.82 L458.44,336.62 L458.85,337.41 L459.26,338.21 L459.67,339.00" fill="none" stroke="#000" stroke-width="3.3" stroke-linejoin="round"/>
<circle cx="337.90" cy="248.85" r="3.05" fill="#fff" stroke="#000" stroke-width="1.3"/>
<circle cx="351.16" cy="220.46" r="3.05" fill="#fff" stroke="#000" stroke-width="1.3"/>
<circle cx="360.57" cy="209.32" r="3.05" fill="#fff" stroke="#000" stroke-width="1.3"/>
<circle cx="367.86" cy="206.06" r="3.05" fill="#fff" stroke="#000" stroke-width="1.3"/>
<circle cx="373.83" cy="206.59" r="3.05" fill="#fff" stroke="#000" stroke-width="1.3"/>
<circle cx="383.24" cy="212.28" r="3.05" fill="#fff" stroke="#000" stroke-width="1.3"/>
<circle cx="390.53" cy="219.81" r="3.05" fill="#fff" stroke="#000" stroke-width="1.3"/>
<circle cx="396.49" cy="227.40" r="3.05" fill="#fff" stroke="#000" stroke-width="1.3"/>
<circle cx="401.54" cy="234.57" r="3.05" fill="#fff" stroke="#000" stroke-width="1.3"/>
<circle cx="405.90" cy="241.23" r="3.05" fill="#fff" stroke="#000" stroke-width="1.3"/>
<circle cx="409.75" cy="247.38" r="3.05" fill="#fff" stroke="#000" stroke-width="1.3"/>
<circle cx="413.20" cy="253.07" r="3.05" fill="#fff" stroke="#000" stroke-width="1.3"/>
<circle cx="435.87" cy="293.46" r="3.05" fill="#fff" stroke="#000" stroke-width="1.3"/>
<circle cx="449.13" cy="318.59" r="3.05" fill="#fff" stroke="#000" stroke-width="1.3"/>
<circle cx="458.54" cy="336.80" r="3.05" fill="#fff" stroke="#000" stroke-width="1.3"/>
<path d="M338.13,233.75 L338.63,232.33 L339.13,230.94 L339.63,229.59 L340.13,228.25 L340.63,226.95 L341.13,225.67 L341.63,224.42 L342.14,223.20 L342.64,222.00 L343.14,220.83 L343.64,219.69 L344.14,218.57 L344.64,217.47 L345.14,216.41 L345.64,215.37 L346.14,214.35 L346.65,213.36 L347.15,212.40 L347.65,211.46 L348.15,210.55 L348.65,209.66 L349.15,208.79 L349.65,207.95 L350.15,207.14 L350.66,206.34 L351.16,205.58 L351.66,204.83 L352.16,204.12 L352.66,203.42 L353.16,202.75 L353.66,202.10 L354.16,201.47 L354.66,200.87 L355.17,200.29 L355.67,199.74 L356.17,199.20 L356.67,198.69 L357.17,198.20 L357.67,197.73 L358.17,197.29 L358.67,196.87 L359.18,196.47 L359.68,196.09 L360.18,195.73 L360.68,195.39 L361.18,195.08 L361.68,194.78 L362.18,194.51 L362.68,194.26 L363.18,194.03 L363.69,193.82 L364.19,193.63 L364.69,193.46 L365.19,193.31 L365.69,193.18 L366.19,193.06 L366.69,192.97 L367.19,192.90 L367.70,192.85 L368.20,192.82 L368.70,192.80 L369.20,192.81 L369.70,192.83 L370.20,192.87 L370.70,192.93 L371.20,193.01 L371.70,193.11 L372.21,193.22 L372.71,193.36 L373.21,193.51 L373.71,193.68 L374.21,193.86 L374.71,194.07 L375.21,194.29 L375.71,194.52 L376.22,194.78 L376.72,195.05 L377.22,195.34 L377.72,195.64 L378.22,195.96 L378.72,196.30 L379.22,196.65 L379.72,197.02 L380.22,197.40 L380.73,197.80 L381.23,198.22 L381.73,198.65 L382.23,199.09 L382.73,199.55 L383.23,200.03 L383.73,200.52 L384.23,201.02 L384.74,201.54 L385.24,202.07 L385.74,202.62 L386.24,203.18 L386.74,203.75 L387.24,204.34 L387.74,204.94 L388.24,205.56 L388.74,206.19 L389.25,206.83 L389.75,207.48 L390.25,208.15 L390.75,208.83 L391.25,209.52 L391.75,210.23 L392.25,210.95 L392.75,211.67 L393.26,212.42 L393.76,213.17 L394.26,213.93 L394.76,214.71 L395.26,215.50 L395.76,216.29 L396.26,217.10 L396.76,217.92 L397.26,218.76 L397.77,219.60 L398.27,220.45 L398.77,221.31 L399.27,222.18 L399.77,223.07 L400.27,223.96 L400.77,224.86 L401.27,225.77 L401.78,226.70 L402.28,227.63 L402.78,228.57 L403.28,229.52 L403.78,230.47 L404.28,231.44 L404.78,232.41 L405.28,233.40 L405.78,234.39 L406.29,235.39 L406.79,236.40 L407.29,237.41 L407.79,238.44 L408.29,239.47 L408.79,240.51 L409.29,241.55 L409.79,242.60 L410.30,243.66 L410.80,244.73 L411.30,245.80 L411.80,246.88 L412.30,247.97 L412.80,249.06" fill="none" stroke="#00B050" stroke-width="3" stroke-linecap="round"/>
<path d="M338.13,236.88 L338.63,235.41 L339.13,233.96 L339.63,232.54 L340.13,231.14 L340.63,229.78 L341.13,228.44 L341.63,227.13 L342.14,225.84 L342.64,224.58 L343.14,223.35 L343.64,222.15 L344.14,220.97 L344.64,219.82 L345.14,218.70 L345.64,217.60 L346.14,216.52 L346.65,215.48 L347.15,214.46 L347.65,213.46 L348.15,212.49 L348.65,211.54 L349.15,210.62 L349.65,209.73 L350.15,208.86 L350.66,208.01 L351.16,207.19 L351.66,206.39 L352.16,205.62 L352.66,204.87 L353.16,204.14 L353.66,203.44 L354.16,202.76 L354.66,202.11 L355.17,201.48 L355.67,200.87 L356.17,200.28 L356.67,199.72 L357.17,199.18 L357.67,198.67 L358.17,198.17 L358.67,197.70 L359.18,197.25 L359.68,196.82 L360.18,196.41 L360.68,196.03 L361.18,195.67 L361.68,195.32 L362.18,195.00 L362.68,194.70 L363.18,194.43 L363.69,194.17 L364.19,193.93 L364.69,193.72 L365.19,193.52 L365.69,193.34 L366.19,193.19 L366.69,193.05 L367.19,192.94 L367.70,192.84 L368.20,192.77 L368.70,192.71 L369.20,192.67 L369.70,192.65 L370.20,192.65 L370.70,192.67 L371.20,192.71 L371.70,192.76 L372.21,192.84 L372.71,192.93 L373.21,193.04 L373.71,193.17 L374.21,193.32 L374.71,193.48 L375.21,193.66 L375.71,193.86 L376.22,194.08 L376.72,194.31 L377.22,194.56 L377.72,194.83 L378.22,195.11 L378.72,195.41 L379.22,195.73 L379.72,196.06 L380.22,196.41 L380.73,196.77 L381.23,197.15 L381.73,197.55 L382.23,197.96 L382.73,198.38 L383.23,198.82 L383.73,199.28 L384.23,199.75 L384.74,200.24 L385.24,200.74 L385.74,201.25 L386.24,201.78 L386.74,202.33 L387.24,202.88 L387.74,203.45 L388.24,204.04 L388.74,204.64 L389.25,205.25 L389.75,205.87 L390.25,206.51 L390.75,207.16 L391.25,207.83 L391.75,208.50 L392.25,209.19 L392.75,209.90 L393.26,210.61 L393.76,211.34 L394.26,212.07 L394.76,212.82 L395.26,213.59 L395.76,214.36 L396.26,215.14 L396.76,215.94 L397.26,216.74 L397.77,217.56 L398.27,218.39 L398.77,219.23 L399.27,220.08 L399.77,220.94 L400.27,221.81 L400.77,222.69 L401.27,223.58 L401.78,224.48 L402.28,225.39 L402.78,226.31 L403.28,227.24 L403.78,228.17 L404.28,229.12 L404.78,230.08 L405.28,231.04 L405.78,232.01 L406.29,232.99 L406.79,233.98 L407.29,234.98 L407.79,235.99 L408.29,237.00 L408.79,238.02 L409.29,239.05 L409.79,240.09 L410.30,241.13 L410.80,242.18 L411.30,243.24 L411.80,244.31 L412.30,245.38 L412.80,246.46" fill="none" stroke="#0070C0" stroke-width="3" stroke-linecap="round"/>
<path d="M338.13,241.10 L338.63,239.54 L339.13,238.01 L339.63,236.51 L340.13,235.04 L340.63,233.60 L341.13,232.18 L341.63,230.79 L342.14,229.43 L342.64,228.09 L343.14,226.78 L343.64,225.50 L344.14,224.25 L344.64,223.02 L345.14,221.82 L345.64,220.65 L346.14,219.50 L346.65,218.38 L347.15,217.29 L347.65,216.22 L348.15,215.17 L348.65,214.16 L349.15,213.16 L349.65,212.20 L350.15,211.25 L350.66,210.34 L351.16,209.45 L351.66,208.58 L352.16,207.74 L352.66,206.92 L353.16,206.12 L353.66,205.35 L354.16,204.61 L354.66,203.89 L355.17,203.19 L355.67,202.51 L356.17,201.86 L356.67,201.23 L357.17,200.63 L357.67,200.05 L358.17,199.49 L358.67,198.95 L359.18,198.44 L359.68,197.95 L360.18,197.48 L360.68,197.03 L361.18,196.61 L361.68,196.20 L362.18,195.82 L362.68,195.46 L363.18,195.12 L363.69,194.81 L364.19,194.51 L364.69,194.24 L365.19,193.98 L365.69,193.75 L366.19,193.53 L366.69,193.34 L367.19,193.17 L367.70,193.02 L368.20,192.88 L368.70,192.77 L369.20,192.68 L369.70,192.60 L370.20,192.55 L370.70,192.51 L371.20,192.50 L371.70,192.50 L372.21,192.52 L372.71,192.56 L373.21,192.62 L373.71,192.70 L374.21,192.79 L374.71,192.91 L375.21,193.04 L375.71,193.19 L376.22,193.35 L376.72,193.54 L377.22,193.74 L377.72,193.96 L378.22,194.19 L378.72,194.44 L379.22,194.71 L379.72,195.00 L380.22,195.30 L380.73,195.62 L381.23,195.95 L381.73,196.30 L382.23,196.67 L382.73,197.05 L383.23,197.45 L383.73,197.86 L384.23,198.29 L384.74,198.74 L385.24,199.19 L385.74,199.67 L386.24,200.16 L386.74,200.66 L387.24,201.18 L387.74,201.71 L388.24,202.25 L388.74,202.81 L389.25,203.39 L389.75,203.97 L390.25,204.57 L390.75,205.19 L391.25,205.81 L391.75,206.45 L392.25,207.11 L392.75,207.77 L393.26,208.45 L393.76,209.14 L394.26,209.85 L394.76,210.56 L395.26,211.29 L395.76,212.03 L396.26,212.78 L396.76,213.54 L397.26,214.32 L397.77,215.10 L398.27,215.90 L398.77,216.71 L399.27,217.53 L399.77,218.36 L400.27,219.20 L400.77,220.05 L401.27,220.91 L401.78,221.78 L402.28,222.67 L402.78,223.56 L403.28,224.46 L403.78,225.37 L404.28,226.29 L404.78,227.22 L405.28,228.16 L405.78,229.11 L406.29,230.06 L406.79,231.03 L407.29,232.00 L407.79,232.99 L408.29,233.98 L408.79,234.98 L409.29,235.98 L409.79,237.00 L410.30,238.02 L410.80,239.05 L411.30,240.09 L411.80,241.13 L412.30,242.18 L412.80,243.24" fill="none" stroke="#FF0000" stroke-width="3.4" stroke-linecap="round"/>
<path d="M331.90,339.00H337.90M331.90,186.40H337.90M337.90,339.00V345.00M413.20,339.00V345.00M488.50,339.00V345.00" fill="none" stroke="#000" stroke-width="1.9"/>
<text x="319.8" y="191.70" font-size="16" text-anchor="end">1E+1</text>
<text x="319.8" y="345.20" font-size="16" text-anchor="end">1E+0</text>
<text x="337.90" y="369.8" font-size="16" text-anchor="middle">1E-2</text>
<text x="413.20" y="369.8" font-size="16" text-anchor="middle">1E-1</text>
<text x="488.50" y="369.8" font-size="16" text-anchor="middle">1E+0</text>
</svg>
</body></html>
